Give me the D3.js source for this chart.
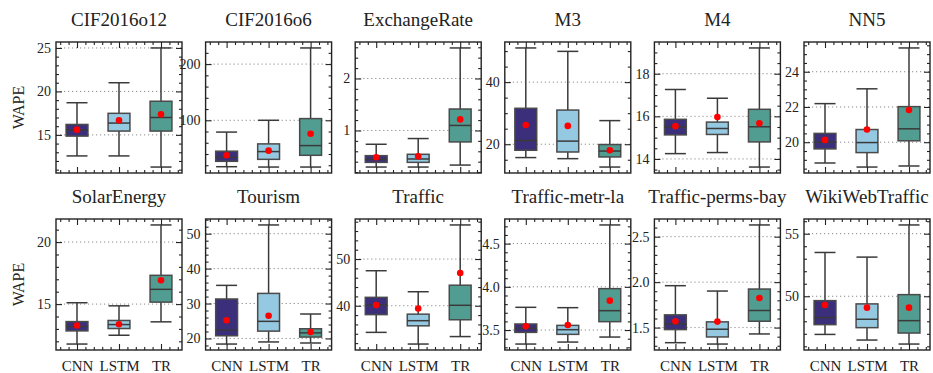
<!DOCTYPE html>
<html>
<head>
<meta charset="utf-8">
<script src="https://cdn.jsdelivr.net/npm/d3@7"></script>
</head>
<body style="margin:0; background:#fff">
<svg id="chart" width="933" height="373" style="font-family:'Liberation Serif', serif"></svg>
<script>
// ---- data ----
const datasets = ["CIF2016o12", "CIF2016o6", "ExchangeRate", "M3", "M4", "NN5",
  "SolarEnergy", "Tourism", "Traffic", "Traffic-metr-la", "Traffic-perms-bay", "WikiWebTraffic"];
const models = ["CNN", "LSTM", "TR"];

const whiskerLow = [
  [12.58, 12.58, 11.3], [17.4, 16.8, 16.8], [0.297, 0.297, 0.335], [15.7, 15.35, 12.65],
  [14.25, 14.3, 13.62], [18.82, 18.59, 18.65], [11.78, 12.49, 13.57], [18.4, 19.0, 18.7],
  [34.3, 31.8, 33.4], [3.338, 3.361, 3.419], [1.334, 1.319, 1.43], [46.95, 46.5, 46.18]];
const q1 = [
  [14.86, 15.44, 15.44], [27, 30.5, 37.7], [0.387, 0.387, 0.78], [18.05, 17.5, 15.9],
  [15.13, 15.15, 14.8], [19.62, 19.41, 20.08], [12.84, 13.03, 15.16], [20.77, 22.1, 20.4],
  [38.1, 35.7, 37.0], [3.473, 3.45, 3.597], [1.478, 1.397, 1.57], [47.73, 47.49, 47.06]];
const median = [
  [15.55, 16.36, 17.0], [34, 44.3, 55], [0.445, 0.452, 1.097], [21.2, 21.0, 17.8],
  [15.5, 15.43, 15.51], [20.0, 19.98, 20.76], [13.19, 13.35, 16.19], [22.4, 24.9, 21.6],
  [40.2, 36.8, 40.1], [3.52, 3.504, 3.724], [1.541, 1.482, 1.688], [48.29, 48.16, 48.05]];
const q3 = [
  [16.2, 17.48, 18.87], [45, 58, 103], [0.516, 0.542, 1.413], [31.57, 31.0, 19.9],
  [15.86, 15.73, 16.33], [20.5, 20.72, 22.02], [13.59, 13.68, 17.32], [31.3, 32.9, 22.78],
  [41.8, 38.2, 44.4], [3.57, 3.554, 3.979], [1.64, 1.563, 1.924], [49.65, 49.39, 50.13]];
const whiskerHigh = [
  [18.7, 21.0, 25.0], [79, 100, 228.7], [0.735, 0.845, 2.587], [51.0, 49.9, 27.6],
  [17.26, 16.85, 19.21], [22.19, 23.03, 25.35], [15.11, 14.86, 21.38], [35.2, 52.5, 27.0],
  [47.5, 43.0, 57.3], [3.763, 3.759, 4.716], [1.961, 1.902, 2.629], [53.5, 53.13, 55.7]];
const meanVals = [
  [15.6, 16.67, 17.36], [37.7, 46, 76], [0.484, 0.503, 1.213], [26.2, 25.9, 18.05],
  [15.54, 15.97, 15.67], [20.13, 20.72, 21.83], [13.27, 13.38, 16.92], [25.2, 26.5, 21.83],
  [40.14, 39.4, 47.0], [3.543, 3.558, 3.84], [1.57, 1.566, 1.825], [49.3, 49.09, 49.09]];
// major tick spacing of each y axis
const tickStep = [5, 100, 1, 20, 2, 2, 5, 10, 10, 0.5, 0.5, 5];

// ---- layout ----
const FONT = "'Liberation Serif', serif";
const colors = ["#3b2f7b", "#95c8e1", "#519d91"];
const lineColor = "#3a3a3a";
const left0 = 56, colStep = 149.6, pw = 126, ph = 131;
const rowTop = [42, 219];

const svg = d3.select("#chart");

function ticksFor(domain, step) {
  const out = [];
  const start = Math.ceil(domain[0] / step - 1e-9);
  const end = Math.floor(domain[1] / step + 1e-9);
  for (let k = start; k <= end; k++) out.push(+(k * step).toFixed(6));
  return out;
}

datasets.forEach((name, i) => {
  const row = Math.floor(i / 6), col = i % 6;
  const g = svg.append("g")
    .attr("transform", "translate(" + (left0 + col * colStep) + "," + rowTop[row] + ")");

  const lo = d3.min(whiskerLow[i]), hi = d3.max(whiskerHigh[i]);
  const pad = (hi - lo) * 0.05;
  const y = d3.scaleLinear().domain([lo - pad, hi + pad]).range([ph, 0]);
  const x = d3.scaleLinear().domain([0.5, 3.5]).range([0, pw]);

  const step = tickStep[i];
  const mant = step / Math.pow(10, Math.floor(Math.log10(step)));
  const minorStep = (mant === 1 || mant === 5) ? step / 5 : step / 4;
  const majors = ticksFor(y.domain(), step);
  const minors = ticksFor(y.domain(), minorStep).filter(v => !majors.some(m => Math.abs(m - v) < 1e-9));
  const xMajors = [1, 2, 3];
  const xMinors = ticksFor(x.domain(), 0.2).filter(v => Math.abs(v - Math.round(v)) > 1e-6);

  // dotted grid at major y ticks
  g.selectAll(".grid").data(majors).enter().append("line")
    .attr("x1", 0).attr("x2", pw)
    .attr("y1", d => y(d)).attr("y2", d => y(d))
    .attr("stroke", "#8a8a8a").attr("stroke-width", 1)
    .attr("stroke-dasharray", "1.2,2.8");

  // boxes
  const bw = x(1.26) - x(1), cw = x(1.25) - x(1);
  models.forEach((m, j) => {
    const cx = x(j + 1);
    g.append("line")
      .attr("x1", cx).attr("x2", cx)
      .attr("y1", y(whiskerLow[i][j])).attr("y2", y(whiskerHigh[i][j]))
      .attr("stroke", lineColor).attr("stroke-width", 1.5);
    [whiskerLow[i][j], whiskerHigh[i][j]].forEach(v => {
      g.append("line")
        .attr("x1", cx - cw).attr("x2", cx + cw)
        .attr("y1", y(v)).attr("y2", y(v))
        .attr("stroke", lineColor).attr("stroke-width", 1.5);
    });
    g.append("rect")
      .attr("x", cx - bw).attr("width", 2 * bw)
      .attr("y", y(q3[i][j])).attr("height", y(q1[i][j]) - y(q3[i][j]))
      .attr("fill", colors[j]).attr("stroke", "#4a4a4a").attr("stroke-width", 1.5);
    g.append("line")
      .attr("x1", cx - bw).attr("x2", cx + bw)
      .attr("y1", y(median[i][j])).attr("y2", y(median[i][j]))
      .attr("stroke", lineColor).attr("stroke-width", 1.5);
    g.append("circle")
      .attr("cx", cx).attr("cy", y(meanVals[i][j])).attr("r", 3.3)
      .attr("fill", "#ff0000");
  });

  // axes, ticks inward on all sides
  const fmt = step < 1 ? d3.format(".1f") : d3.format("d");
  const yl = g.append("g")
    .call(d3.axisLeft(y).tickValues(majors).tickSize(-6).tickSizeOuter(0).tickPadding(5).tickFormat(fmt));
  yl.attr("font-family", null).attr("font-size", null);
  yl.selectAll("text").style("font-family", FONT).style("font-size", "14px").attr("fill", "#222");
  g.append("g").call(d3.axisLeft(y).tickValues(minors).tickSize(-3).tickSizeOuter(0).tickFormat(""));
  g.append("g").attr("transform", "translate(" + pw + ",0)")
    .call(d3.axisRight(y).tickValues(majors).tickSize(-6).tickSizeOuter(0).tickFormat(""));
  g.append("g").attr("transform", "translate(" + pw + ",0)")
    .call(d3.axisRight(y).tickValues(minors).tickSize(-3).tickSizeOuter(0).tickFormat(""));

  const xb = g.append("g").attr("transform", "translate(0," + ph + ")")
    .call(d3.axisBottom(x).tickValues(xMajors).tickSize(-6).tickSizeOuter(0).tickPadding(10)
      .tickFormat(d => row === 1 ? models[d - 1] : ""));
  xb.attr("font-family", null).attr("font-size", null);
  xb.selectAll("text").style("font-family", FONT).style("font-size", "15px").attr("fill", "#222");
  g.append("g").attr("transform", "translate(0," + ph + ")")
    .call(d3.axisBottom(x).tickValues(xMinors).tickSize(-3).tickSizeOuter(0).tickFormat(""));
  g.append("g").call(d3.axisTop(x).tickValues(xMajors).tickSize(-6).tickSizeOuter(0).tickFormat(""));
  g.append("g").call(d3.axisTop(x).tickValues(xMinors).tickSize(-3).tickSizeOuter(0).tickFormat(""));

  g.selectAll(".domain").remove();
  g.selectAll(".tick line").attr("stroke", "#222").attr("stroke-width", 1.1);

  g.append("rect")
    .attr("width", pw).attr("height", ph)
    .attr("fill", "none").attr("stroke", "#222").attr("stroke-width", 1.4);

  g.append("text")
    .attr("x", pw / 2).attr("y", -16)
    .attr("text-anchor", "middle")
    .style("font-family", FONT).style("font-size", "19px").attr("fill", "#222")
    .text(name);
});

// y label on the first column
rowTop.forEach(t => {
  svg.append("text")
    .attr("transform", "translate(23.5," + (t + ph / 2) + ") rotate(-90)")
    .attr("text-anchor", "middle")
    .style("font-family", FONT).style("font-size", "16px").attr("fill", "#222")
    .text("WAPE");
});
</script>
</body>
</html>
